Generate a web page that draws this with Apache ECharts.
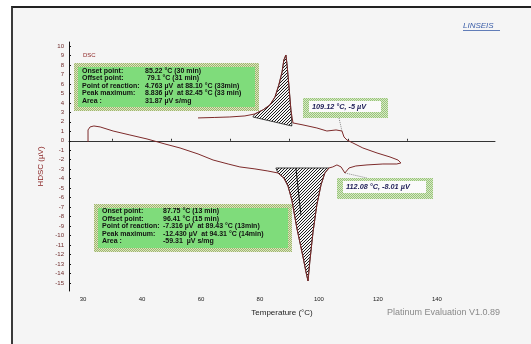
<!DOCTYPE html>
<html>
<head>
<meta charset="utf-8">
<script src="https://cdn.jsdelivr.net/npm/echarts@6/dist/echarts.min.js"></script>
<style>
  html, body { margin: 0; padding: 0; background: #ffffff; }
  #frame { position: absolute; left: 11px; top: 6px; width: 520px; height: 338px;
           background: #f5f5f5; border-top: 2px solid #222; border-left: 2px solid #3a3a3a; box-sizing: border-box; }
  #chart { position: absolute; left: 0; top: 0; width: 531px; height: 344px; }
</style>
</head>
<body>
<div id="frame"></div>
<div id="chart"></div>
<script>
// Axis ticks
const xTickValues = [20, 40, 60, 80, 100, 120, 140];
const xTickLabels = ['30', '40', '60', '80', '100', '120', '140'];
const xMinorTicks = [30, 50, 70, 90, 110, 130];
const yTickValues = [10, 9, 8, 7, 6, 5, 4, 3, 2, 1, 0, -1, -2, -3, -4, -5, -6, -7, -8, -9, -10, -11, -12, -13, -14, -15];

// DSC signal, heating run (temperature °C, signal µV)
const heatTemp   = [21.7, 21.7, 22.4, 23.7, 25.8, 30.2, 35.9, 41.7, 47.8, 52.9, 59.0, 64.1, 69.2, 73.2, 78.3, 82.7, 86.1, 88.1, 89.5, 90.8, 92.5, 94.6, 95.6, 96.3, 96.9, 98.0, 99.3, 100.7, 102.0, 103.4, 104.7, 106.1, 107.5, 108.8, 110.2, 112.5, 116.3, 121.7, 126.4, 127.8];
const heatSignal = [-0.13, 1.14, 1.46, 1.56, 1.46, 1.03, 0.61, 0.19, -0.34, -0.76, -1.39, -2.03, -2.45, -2.76, -2.97, -3.19, -3.40, -3.92, -4.77, -6.24, -9.20, -12.26, -13.84, -14.79, -12.78, -9.62, -6.77, -4.66, -3.40, -2.87, -2.76, -2.55, -2.76, -3.40, -2.87, -2.66, -2.55, -2.45, -2.45, -2.34];

// DSC signal, cooling run back down
const coolTemp   = [126.8, 124.1, 119.7, 114.9, 111.5, 109.5, 108.5, 107.8, 105.8, 102.7, 99.3, 94.6, 91.2, 90.5, 89.8, 89.2, 88.8, 88.1, 87.5, 86.4, 85.1, 83.4, 81.0, 78.3, 74.9, 69.8, 64.7, 59.0];
const coolSignal = [-2.03, -1.71, -1.29, -0.76, -0.23, 0.08, 0.40, 1.03, 1.14, 1.03, 1.35, 1.67, 1.88, 3.25, 5.89, 8.00, 9.05, 8.52, 7.26, 5.89, 4.62, 3.78, 3.25, 2.83, 2.62, 2.51, 2.46, 2.41];

// Integrated peak areas (outline incl. baseline)
const exoPeakTemp   = [77.6, 78.3, 81.0, 83.4, 85.1, 86.4, 87.5, 88.1, 88.8, 89.2, 89.8, 90.5, 90.8, 90.8];
const exoPeakSignal = [2.51, 2.83, 3.25, 3.78, 4.62, 5.89, 7.26, 8.52, 9.05, 8.00, 5.89, 3.25, 1.88, 1.56];
const endoPeakTemp   = [85.4, 86.1, 88.1, 89.5, 90.8, 92.5, 94.6, 95.6, 96.3, 96.9, 98.0, 99.3, 100.7, 102.0, 103.4];
const endoPeakSignal = [-2.87, -3.40, -3.92, -4.77, -6.24, -9.20, -12.26, -13.84, -14.79, -12.78, -9.62, -6.77, -4.66, -3.40, -2.87];

// Point of reaction marker inside the endothermic peak
const reactionTemp   = [92.2, 93.9];
const reactionSignal = [-2.88, -7.83];

// Annotated curve points
const markA = { temp: 107.8, signal: 1.03, text: '109.12 °C, -5 µV' };
const markB = { temp: 108.8, signal: -3.40, text: '112.08 °C, -8.01 µV' };

const exoInfo = [
  ['Onset point:', '85.22 °C (30 min)'],
  ['Offset point:', ' 79.1 °C (31 min)'],
  ['Point of reaction:', '4.763 µV  at 88.10 °C (33min)'],
  ['Peak maximum:', '8.836 µV  at 82.45 °C (33 min)'],
  ['Area :', '31.87 µV s/mg']
];
const endoInfo = [
  ['Onset point:', '87.75 °C (13 min)'],
  ['Offset point:', '96.41 °C (15 min)'],
  ['Point of reaction:', '-7.316 µV  at 89.43 °C (13min)'],
  ['Peak maximum:', '-12.430 µV  at 94.31 °C (14min)'],
  ['Area :', '-59.31  µV s/mg']
];

const zip = (a, b) => a.map((v, i) => [v, b[i]]);
const curve = zip(heatTemp, heatSignal).concat(zip(coolTemp, coolSignal));

// diagonal hatch fill
function hatchPattern() {
  const c = document.createElement('canvas');
  c.width = 3; c.height = 3;
  const g = c.getContext('2d');
  g.fillStyle = '#f4f4f4'; g.fillRect(0, 0, 3, 3);
  g.fillStyle = '#1a1a1a';
  g.fillRect(2, 0, 1, 1); g.fillRect(1, 1, 1, 1); g.fillRect(0, 2, 1, 1);
  return { image: c, repeat: 'repeat' };
}
// speckled border fill
function checker(dark, light) {
  const c = document.createElement('canvas');
  c.width = 2; c.height = 2;
  const g = c.getContext('2d');
  g.fillStyle = light; g.fillRect(0, 0, 2, 2);
  g.fillStyle = dark; g.fillRect(0, 0, 1, 1); g.fillRect(1, 1, 1, 1);
  return { image: c, repeat: 'repeat' };
}
const hatch = hatchPattern();
const boxBorder = checker('#9fb56c', '#dbe5c2');
const tagBorder = checker('#98c47a', '#d7e9c6');

function polygonSeries(temp, signal) {
  const pts = zip(temp, signal);
  return {
    type: 'custom', z: 1, silent: true, clip: false,
    data: pts,
    renderItem: (params, api) => {
      if (params.dataIndex !== 0) return null;
      return {
        type: 'polygon',
        shape: { points: pts.map(p => api.coord(p)) },
        style: { fill: hatch, stroke: '#1a1a1a', lineWidth: 0.8 }
      };
    }
  };
}

const chart = echarts.init(document.getElementById('chart'), null, { renderer: 'canvas' });

const font = 'Liberation Sans, Arial, sans-serif';

function infoBox(x, y, w, h, rows, labelX, valueX, firstY) {
  const els = [
    { type: 'rect', shape: { x, y, width: w, height: h }, style: { fill: boxBorder } },
    { type: 'rect', shape: { x: x + 4, y: y + 4, width: w - 8, height: h - 8 }, style: { fill: '#7fdc7b' } }
  ];
  rows.forEach((r, i) => {
    const ty = firstY + i * 7.4;
    els.push({ type: 'text', x: labelX, y: ty, style: { text: r[0], fill: '#111', font: 'bold 7px ' + font, verticalAlign: 'middle' } });
    els.push({ type: 'text', x: valueX, y: ty, style: { text: r[1], fill: '#111', font: 'bold 7px ' + font, verticalAlign: 'middle' } });
  });
  return els;
}

function tagBox(x, y, w, h, ix, iy, iw, ih, text) {
  return [
    { type: 'rect', shape: { x, y, width: w, height: h }, style: { fill: tagBorder } },
    { type: 'rect', shape: { x: ix, y: iy, width: iw, height: ih }, style: { fill: '#fafafa' } },
    { type: 'text', x: ix + 3, y: iy + ih / 2, style: { text, fill: '#1c1c55', font: 'italic bold 7.3px ' + font, verticalAlign: 'middle' } }
  ];
}

const option = {
  animation: false,
  backgroundColor: 'transparent',
  grid: { left: 69, top: 42, right: 36, bottom: 53 },
  xAxis: {
    type: 'value', min: 15.25, max: 159.7,
    splitLine: { show: false },
    axisLine: { lineStyle: { color: '#333', width: 1 } },
    axisTick: { customValues: xMinorTicks, inside: true, length: 2, lineStyle: { color: '#333' } },
    axisLabel: {
      customValues: xTickValues,
      formatter: v => xTickLabels[xTickValues.indexOf(v)],
      fontSize: 6, color: '#222', margin: 5, fontFamily: font
    },
    name: 'Temperature (°C)', nameLocation: 'middle', nameGap: 18,
    nameTextStyle: { fontSize: 8, color: '#222', fontFamily: font }
  },
  yAxis: {
    type: 'value', min: -15.85, max: 10.42,
    splitLine: { show: false },
    axisLine: { show: true, lineStyle: { color: '#111', width: 1 } },
    axisTick: { customValues: yTickValues, inside: true, length: 2, lineStyle: { color: '#111' } },
    axisLabel: { customValues: yTickValues, fontSize: 6, color: '#6e2a2a', margin: 5, fontFamily: font },
    name: 'HDSC (µV)', nameLocation: 'middle', nameGap: 20,
    nameTextStyle: { fontSize: 8, color: '#8b2525', fontFamily: font }
  },
  series: [
    polygonSeries(exoPeakTemp, exoPeakSignal),
    polygonSeries(endoPeakTemp, endoPeakSignal),
    {
      type: 'line', z: 3, data: zip(reactionTemp, reactionSignal), symbol: 'none',
      lineStyle: { color: '#111', width: 1 }, silent: true
    },
    {
      name: 'DSC', type: 'line', z: 4, data: curve, symbol: 'none',
      lineStyle: { color: '#7d2a2a', width: 1 }, silent: true
    }
  ]
};
chart.setOption(option);

const pA = chart.convertToPixel({ gridIndex: 0 }, [markA.temp, markA.signal]);
const pB = chart.convertToPixel({ gridIndex: 0 }, [markB.temp, markB.signal]);

const graphics = [
  { type: 'text', x: 83, y: 55, style: { text: 'DSC', fill: '#8b1f1f', font: '6px ' + font, verticalAlign: 'middle' } },
  { type: 'text', x: 463, y: 26, style: { text: 'LINSEIS', fill: '#3b5ea8', font: 'italic 8px ' + font, verticalAlign: 'middle' } },
  { type: 'line', shape: { x1: 463, y1: 30.5, x2: 500, y2: 30.5 }, style: { stroke: '#3b5ea8', lineWidth: 0.8 } },
  { type: 'text', x: 387, y: 313, style: { text: 'Platinum Evaluation V1.0.89', fill: '#8a8a8a', font: '9px ' + font, verticalAlign: 'middle' } },
  { type: 'line', shape: { x1: 339, y1: 118, x2: pA[0], y2: pA[1] }, style: { stroke: '#888', lineWidth: 1, lineDash: [1, 1] } },
  { type: 'line', shape: { x1: pB[0], y1: pB[1], x2: 367, y2: 178 }, style: { stroke: '#888', lineWidth: 1, lineDash: [1, 1] } }
]
  .concat(infoBox(74, 63, 185, 48, exoInfo, 82, 145, 71))
  .concat(infoBox(94, 204, 198, 48, endoInfo, 102, 163, 211.5))
  .concat(tagBox(303, 98, 85, 20, 309, 101, 72, 11, markA.text))
  .concat(tagBox(337, 178, 96, 21, 343, 181, 83, 12, markB.text));

chart.setOption({ graphic: { elements: graphics } });
</script>
</body>
</html>
